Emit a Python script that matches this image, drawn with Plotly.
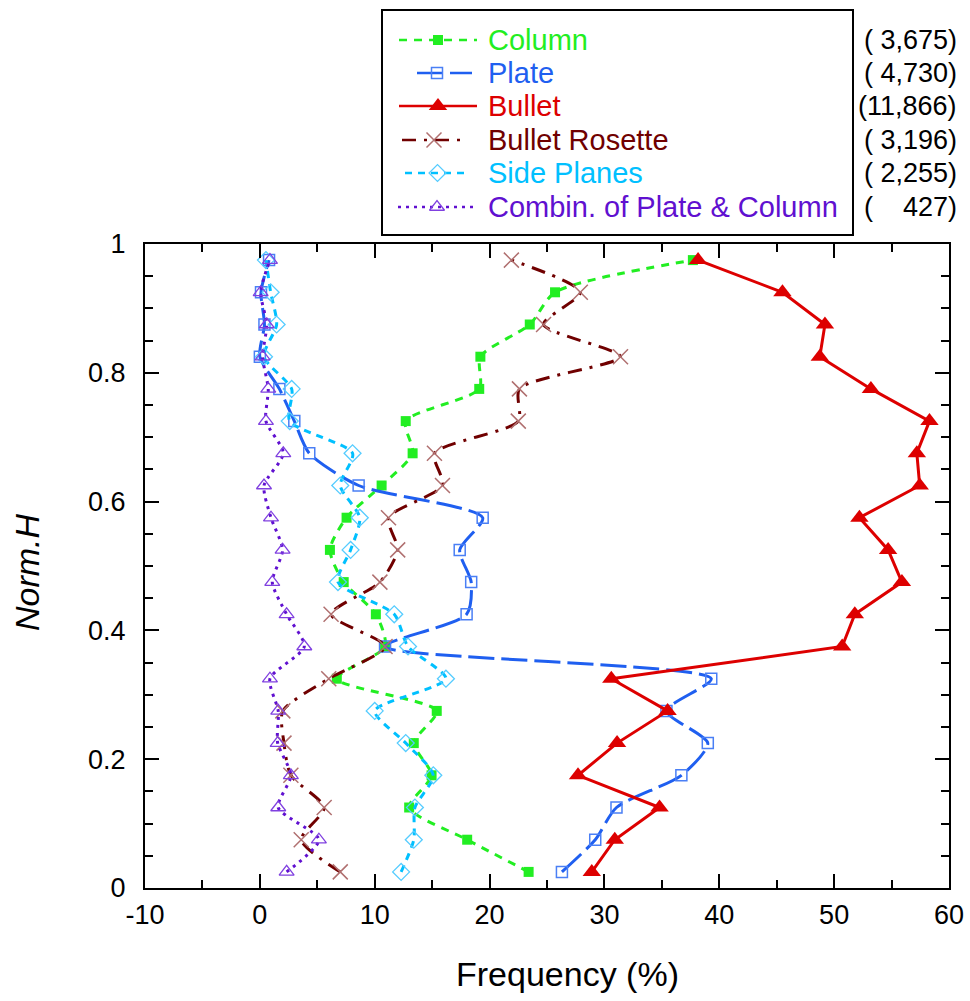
import plotly.graph_objects as go

# ---- data ----
norm_h = [0.025, 0.075, 0.125, 0.175, 0.225, 0.275, 0.325, 0.375, 0.425, 0.475,
          0.525, 0.575, 0.625, 0.675, 0.725, 0.775, 0.825, 0.875, 0.925, 0.975]

column = [23.4, 18.05, 13.0, 14.95, 13.4, 15.4, 6.7, 10.9, 10.1, 7.3,
          6.1, 7.55, 10.6, 13.3, 12.7, 19.1, 19.2, 23.5, 25.7, 37.7]
plate = [26.3, 29.2, 31.05, 36.7, 39.0, 35.4, 39.3, 10.9, 18.0, 18.4,
         17.4, 19.4, 8.6, 4.3, 3.0, 1.7, 0.0, 0.4, 0.1, 0.8]
bullet = [28.9, 30.9, 34.8, 27.7, 31.1, 35.5, 30.6, 50.7, 51.8, 55.9,
          54.7, 52.2, 57.45, 57.2, 58.3, 53.2, 48.75, 49.2, 45.5, 38.15]
rosette = [7.0, 3.6, 5.6, 2.7, 2.1, 2.0, 6.0, 10.9, 6.2, 10.45,
           12.0, 11.2, 15.9, 15.2, 22.5, 22.6, 31.4, 24.7, 27.9, 21.9]
side_planes = [12.3, 13.4, 13.5, 15.1, 12.7, 10.0, 16.2, 12.9, 11.7, 6.8,
               7.9, 8.7, 7.0, 8.07, 2.6, 2.77, 0.36, 1.46, 0.94, 0.53]
combin = [2.33, 5.14, 1.6, 2.7, 1.55, 1.6, 0.88, 3.87, 2.33, 1.08,
          1.98, 0.97, 0.36, 2.04, 0.53, 0.73, 0.24, 0.6, 0.07, 0.88]

names = ["Column", "Plate", "Bullet", "Bullet Rosette", "Side Planes",
         "Combin. of Plate &amp; Column"]
counts = ["(\u00a03,675)", "(\u00a04,730)", "(11,866)", "(\u00a03,196)",
          "(\u00a02,255)", "(\u00a0\u00a0\u00a0\u00a0427)"]

x_ticks = [-10, 0, 10, 20, 30, 40, 50, 60]
x_ticktext = ["-10", "0", "10", "20", "30", "40", "50", "60"]

FONT = "Liberation Sans, Arial, sans-serif"
W, H = 970, 1001
PL, PR, PT, PB = 145, 949, 244, 888   # plot area in pixels

styles = [
    dict(color="#22ee22", dash="8px,7px", shape="spline",
         marker=dict(symbol="square", size=10, color="#22ee22"),
         sample=(399, 477)),
    dict(color="#1f5ff0", dash="26px,7px", shape="spline",
         marker=dict(symbol="square-open", size=11, color="#4a7ff5",
                     line=dict(width=1.5, color="#4a7ff5")),
         sample=(417, 472)),
    dict(color="#dd0000", dash="solid", shape="linear",
         marker=dict(symbol="triangle-up", size=16, color="#dd0000"),
         sample=(399, 477)),
    dict(color="#700000", dash="14px,8px,3px,8px", shape="spline",
         marker=dict(symbol="x-thin-open", size=15, color="#b07070",
                     line=dict(width=1.5, color="#b07070")),
         sample=(402, 466)),
    dict(color="#00c0ff", dash="7px,6px", shape="spline",
         marker=dict(symbol="diamond-open", size=13, color="#55ccff",
                     line=dict(width=1.3, color="#55ccff")),
         sample=(405, 470)),
    dict(color="#6010d0", dash="3px,5px", shape="spline",
         marker=dict(symbol="triangle-up-open", size=13, color="#8040e0",
                     line=dict(width=1.3, color="#8040e0")),
         sample=(398, 476)),
]
series = [column, plate, bullet, rosette, side_planes, combin]

fig = go.Figure()
for name, s, xs in zip(names, styles, series):
    fig.add_trace(go.Scatter(
        x=xs, y=norm_h, mode="lines+markers", name=name, showlegend=False,
        line=dict(color=s["color"], width=3, dash=s["dash"],
                  shape=s["shape"], smoothing=0.7),
        marker=s["marker"], xaxis="x", yaxis="y",
    ))

# ---- hand-built legend on a pixel overlay axis pair (x2/y2) ----
row_y = [40, 73, 106, 140, 173, 207]
for name, s, ry, c in zip(names, styles, row_y, counts):
    x0, x1 = s["sample"]
    fig.add_trace(go.Scatter(
        x=[x0, x1], y=[ry, ry], mode="lines", showlegend=False,
        line=dict(color=s["color"], width=2.5, dash=s["dash"]),
        xaxis="x2", yaxis="y2", hoverinfo="skip"))
    fig.add_trace(go.Scatter(
        x=[(x0 + x1) / 2 if name != "Plate" else 437], y=[ry], mode="markers",
        showlegend=False, marker=s["marker"],
        xaxis="x2", yaxis="y2", hoverinfo="skip"))
    fig.add_annotation(x=486, y=ry, xref="x2", yref="y2", text=name,
                       showarrow=False, xanchor="left", yanchor="middle",
                       font=dict(family=FONT, size=29, color=s["color"]))
    fig.add_annotation(x=959, y=ry, xref="x2", yref="y2", text=c,
                       showarrow=False, xanchor="right", yanchor="middle",
                       font=dict(family=FONT, size=27, color="black"))

fig.add_shape(type="rect", xref="x2", yref="y2", x0=382, x1=853, y0=10, y1=235,
              line=dict(color="black", width=2), fillcolor="rgba(0,0,0,0)")

# axis titles
fig.add_annotation(x=567, y=974, xref="x2", yref="y2", text="Frequency (%)",
                   showarrow=False, xanchor="center", yanchor="middle",
                   font=dict(family=FONT, size=34, color="black"))
fig.add_annotation(x=27, y=572, xref="x2", yref="y2", text="<i>Norm.H</i>",
                   showarrow=False, xanchor="center", yanchor="middle",
                   textangle=-90,
                   font=dict(family=FONT, size=34, color="black"))

axis_common = dict(
    showline=True, linecolor="black", linewidth=2, mirror="ticks",
    ticks="inside", ticklen=14, tickwidth=2, tickcolor="black",
    showgrid=False, zeroline=False, automargin=False,
    tickfont=dict(family=FONT, size=27, color="black"),
)

fig.update_layout(
    width=W, height=H,
    margin=dict(l=0, r=0, t=0, b=0, pad=0),
    paper_bgcolor="white", plot_bgcolor="rgba(0,0,0,0)",
    showlegend=False,
    xaxis=dict(domain=[PL / W, PR / W], range=[-10, 60],
               tickmode="array", tickvals=x_ticks, ticktext=x_ticktext,
               minor=dict(dtick=5, tick0=0, ticks="inside", ticklen=8,
                          tickwidth=2, tickcolor="black", showgrid=False),
               ticklabelstandoff=2, anchor="y", **axis_common),
    yaxis=dict(domain=[(H - PB) / H, (H - PT) / H], range=[0, 1],
               dtick=0.2, tick0=0,
               minor=dict(dtick=0.05, tick0=0, ticks="inside", ticklen=8,
                          tickwidth=2, tickcolor="black", showgrid=False),
               ticklabelstandoff=12, anchor="x", **axis_common),
    xaxis2=dict(domain=[0, 1], range=[0, W], visible=False, anchor="y2",
                fixedrange=True),
    yaxis2=dict(domain=[0, 1], range=[H, 0], visible=False, anchor="x2",
                fixedrange=True),
)

fig.write_html("out.html")
